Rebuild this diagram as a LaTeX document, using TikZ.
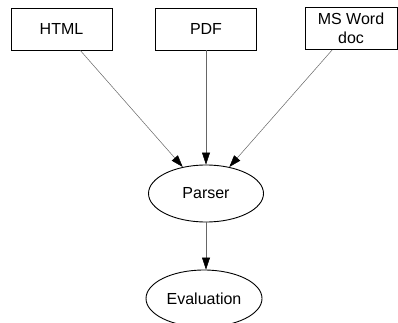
\documentclass[tikz,border=0pt]{standalone}
\usepackage{fontspec}
\setmainfont{Liberation Sans}
\usetikzlibrary{arrows.meta,shapes.geometric}
\tikzset{>/.tip={Triangle[length=12pt,width=8pt,fill=black,color=black]}}
\tikzset{
  docbox/.style={draw=black, line width=0.9pt, minimum width=101pt, minimum height=42pt, inner sep=0pt, align=center, font=\fontsize{16}{19}\selectfont},
  procnode/.style={draw=black, line width=0.9pt, ellipse, minimum width=115pt, minimum height=57pt, inner sep=0pt, font=\fontsize{16}{19}\selectfont},
  flow/.style={->, draw=black!60, line width=0.5pt}
}

\begin{document}
\begin{tikzpicture}[x=1pt,y=1pt]
\useasboundingbox (0,0) rectangle (398,-323);
\node[docbox] (html) at (61.5,-29)  {HTML};
\node[docbox] (pdf) at (206,-29)  {PDF};
\node[docbox, minimum width=92pt] (msword) at (351,-28.5)  {MS Word\\doc};
\node[procnode] (parser) at (206,-193.5)  {Parser};
\node[procnode, minimum width=116pt] (eval) at (204,-298.5)  {Evaluation};

\draw[flow] (html) -- (parser);
\draw[flow] (pdf) -- (parser);
\draw[flow] (msword) -- (parser);
\draw[flow] (parser) -- (parser |- eval.north);
\end{tikzpicture}
\end{document}
